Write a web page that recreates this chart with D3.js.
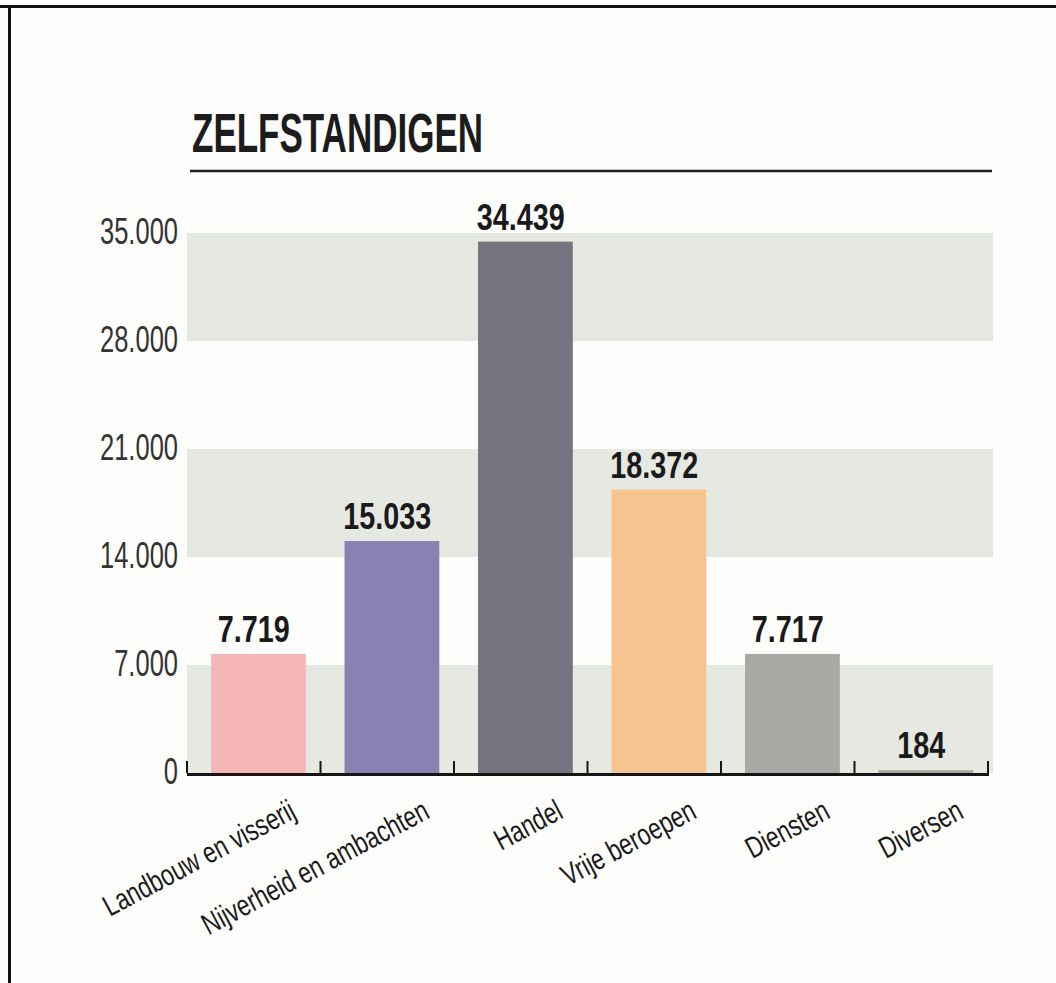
<!DOCTYPE html>
<html>
<head>
<meta charset="utf-8">
<script src="https://cdn.jsdelivr.net/npm/d3@7"></script>
<style>
    body { margin: 0; background: #fdfdfb; }
    svg { display: block; }
    text { font-family: "Liberation Sans", Arial, sans-serif; }
    .tick-label { fill: #333; }
    .value-label { font-weight: bold; fill: #1a1a1a; }
    .cat-label { fill: #1a1a1a; }
    .title { font-weight: bold; fill: #1c1c1c; }
</style>
</head>
<body>
<div id="chart"></div>
<script>
// data
const categories = ["Landbouw en visserij", "Nijverheid en ambachten", "Handel", "Vrije beroepen", "Diensten", "Diversen"];
const values = [7719, 15033, 34439, 18372, 7717, 184];
const barColors = ["#f4b6b6", "#8b80b2", "#77737f", "#f6c48f", "#a8a9a5", "#a8a9a5"];
const yTicks = [0, 7000, 14000, 21000, 28000, 35000];
const bands = [[0, 7000], [14000, 21000], [28000, 35000]];
const title = "ZELFSTANDIGEN";

const width = 1056, height = 983;
const margin = { left: 187, right: 68, top: 233, bottom: 210 };

const svg = d3.select("#chart").append("svg")
    .attr("width", width)
    .attr("height", height);

// the newspaper font is very condensed: squeeze every text of a selection by the
// same factor, picked so that one sample text gets the width seen in the scan
function condense(sel, sampleIndex, targetWidth) {
    const nodes = sel.nodes();
    const factor = targetWidth / nodes[sampleIndex].getComputedTextLength();
    sel.each(function () {
        const w = this.getComputedTextLength();
        d3.select(this).attr("textLength", w * factor).attr("lengthAdjust", "spacingAndGlyphs");
    });
}

// frame of the clipping
svg.append("rect").attr("x", 0).attr("y", 5).attr("width", width).attr("height", 3).attr("fill", "#111");
svg.append("rect").attr("x", 8).attr("y", 5).attr("width", 3).attr("height", height).attr("fill", "#111");

const x = d3.scaleBand()
    .domain(categories)
    .range([margin.left, width - margin.right])
    .padding(0);

const y = d3.scaleLinear()
    .domain([0, 35000])
    .range([height - margin.bottom, margin.top]);

// title + rule
const t = svg.append("text")
    .attr("class", "title")
    .attr("x", 192)
    .attr("y", 152)
    .style("font-size", "55px")
    .text(title);
condense(t, 0, 291);

svg.append("line")
    .attr("x1", 190).attr("x2", 992)
    .attr("y1", 171).attr("y2", 171)
    .attr("stroke", "#222")
    .attr("stroke-width", 2.5);

// grey background bands
svg.selectAll(".band")
    .data(bands)
    .enter()
    .append("rect")
    .attr("class", "band")
    .attr("x", margin.left)
    .attr("width", width - margin.right - margin.left + 5)
    .attr("y", d => y(d[1]))
    .attr("height", d => y(d[0]) - y(d[1]))
    .attr("fill", "#e6e9e2");

// y axis labels only, no line
const fmt = d => d3.format(",")(d).replace(/,/g, ".");
const yl = svg.selectAll(".tick-label")
    .data(yTicks)
    .enter()
    .append("text")
    .attr("class", "tick-label")
    .attr("x", 178)
    .attr("y", d => y(d) + 11)
    .attr("text-anchor", "end")
    .style("font-size", "36px")
    .text(fmt);
condense(yl, 5, 78);

// bars
const step = x.step();
svg.selectAll(".bar")
    .data(values)
    .enter()
    .append("rect")
    .attr("class", "bar")
    .attr("x", (d, i) => x(categories[i]) + step * 0.18)
    .attr("width", step * 0.71)
    .attr("y", d => y(d))
    .attr("height", d => y(0) - y(d))
    .attr("fill", (d, i) => barColors[i]);

// value labels
const vl = svg.selectAll(".value-label")
    .data(values)
    .enter()
    .append("text")
    .attr("class", "value-label")
    .attr("x", (d, i) => x(categories[i]) + step / 2)
    .attr("y", d => y(d) - 12)
    .attr("text-anchor", "middle")
    .style("font-size", "37px")
    .text(fmt);
condense(vl, 2, 88);

// x axis: thick baseline, ticks pointing up
const xAxis = svg.append("g").attr("class", "x-axis");
xAxis.append("line")
    .attr("x1", margin.left).attr("x2", width - margin.right + 1)
    .attr("y1", y(0) + 1.5).attr("y2", y(0) + 1.5)
    .attr("stroke", "#151515")
    .attr("stroke-width", 3);

const edges = categories.map(c => x(c)).concat([x(categories[categories.length - 1]) + step]);
xAxis.selectAll(".xtick")
    .data(edges)
    .enter()
    .append("line")
    .attr("x1", d => d).attr("x2", d => d)
    .attr("y1", y(0)).attr("y2", y(0) - 12)
    .attr("stroke", "#151515")
    .attr("stroke-width", 2);

// rotated category labels
const cl = svg.selectAll(".cat-label")
    .data(categories)
    .enter()
    .append("text")
    .attr("class", "cat-label")
    .attr("text-anchor", "end")
    .attr("transform", d => `translate(${x(d) + step / 2 + 44},${y(0) + 44}) rotate(-28)`)
    .style("font-size", "30px")
    .text(d => d);
condense(cl, 0, 213);
</script>
</body>
</html>
